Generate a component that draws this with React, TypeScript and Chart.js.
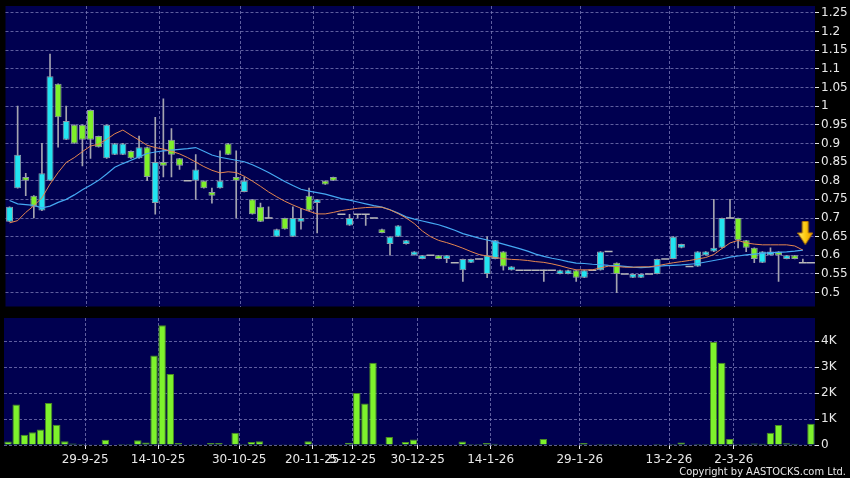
import React, { useEffect, useRef } from "react";
import { Chart, registerables } from "chart.js";
Chart.register(...registerables);

// ---- data ----
const openP = [
  0.69, 0.78, 0.81, 0.76, 0.72, 0.80, 1.06, 0.91, 0.95, 0.95,
  0.99, 0.92, 0.86, 0.87, 0.87, 0.88, 0.86, 0.89, 0.74, 0.85,
  0.91, 0.86, 0.80, 0.80, 0.80, 0.77, 0.78, 0.90, 0.81, 0.77,
  0.75, 0.73, 0.70, 0.65, 0.70, 0.65, 0.69, 0.76, 0.74, 0.80,
  0.81, 0.71, 0.68, 0.71, 0.71, 0.70, 0.67, 0.63, 0.65, 0.63,
  0.60, 0.59, 0.60, 0.60, 0.59, 0.58, 0.56, 0.58, 0.59, 0.55,
  0.59, 0.61, 0.56, 0.56, 0.56, 0.56, 0.56, 0.56, 0.55, 0.55,
  0.56, 0.54, 0.56, 0.56, 0.61, 0.58, 0.55, 0.54, 0.54, 0.55,
  0.55, 0.59, 0.59, 0.62, 0.57, 0.57, 0.60, 0.61, 0.62, 0.70,
  0.70, 0.64, 0.62, 0.58, 0.60, 0.61, 0.59, 0.60, 0.58, 0.58,
];
const highP = [
  0.73, 1.00, 0.82, 0.76, 0.90, 1.14, 1.06, 1.00, 0.95, 0.95,
  0.99, 0.92, 0.95, 0.90, 0.90, 0.88, 0.92, 0.89, 0.97, 1.02,
  0.94, 0.86, 0.80, 0.87, 0.80, 0.78, 0.88, 0.90, 0.88, 0.81,
  0.75, 0.74, 0.73, 0.67, 0.70, 0.73, 0.725, 0.78, 0.75, 0.80,
  0.81, 0.71, 0.71, 0.71, 0.71, 0.70, 0.67, 0.65, 0.68, 0.64,
  0.61, 0.60, 0.60, 0.60, 0.60, 0.58, 0.59, 0.59, 0.59, 0.65,
  0.64, 0.61, 0.57, 0.56, 0.56, 0.56, 0.56, 0.56, 0.56, 0.56,
  0.56, 0.56, 0.56, 0.61, 0.61, 0.58, 0.55, 0.55, 0.55, 0.55,
  0.59, 0.59, 0.65, 0.63, 0.57, 0.61, 0.61, 0.75, 0.70, 0.75,
  0.70, 0.64, 0.62, 0.61, 0.62, 0.61, 0.60, 0.60, 0.59, 0.58,
];
const lowP = [
  0.69, 0.78, 0.76, 0.70, 0.72, 0.80, 0.89, 0.91, 0.90, 0.84,
  0.86, 0.89, 0.86, 0.87, 0.87, 0.86, 0.86, 0.80, 0.71, 0.81,
  0.81, 0.83, 0.80, 0.75, 0.78, 0.74, 0.78, 0.87, 0.70, 0.77,
  0.71, 0.69, 0.70, 0.65, 0.67, 0.65, 0.67, 0.72, 0.66, 0.79,
  0.80, 0.71, 0.68, 0.70, 0.68, 0.70, 0.66, 0.60, 0.65, 0.63,
  0.60, 0.59, 0.60, 0.59, 0.58, 0.58, 0.53, 0.58, 0.59, 0.54,
  0.59, 0.56, 0.56, 0.56, 0.56, 0.56, 0.53, 0.56, 0.55, 0.55,
  0.53, 0.54, 0.56, 0.56, 0.61, 0.50, 0.55, 0.54, 0.54, 0.55,
  0.55, 0.59, 0.59, 0.62, 0.57, 0.57, 0.60, 0.61, 0.62, 0.70,
  0.62, 0.61, 0.58, 0.58, 0.60, 0.53, 0.59, 0.59, 0.58, 0.58,
];
const closeP = [
  0.73, 0.87, 0.80, 0.73, 0.82, 1.08, 0.97, 0.96, 0.90, 0.91,
  0.91, 0.89, 0.95, 0.90, 0.90, 0.86, 0.89, 0.81, 0.85, 0.84,
  0.87, 0.84, 0.80, 0.83, 0.78, 0.76, 0.80, 0.87, 0.80, 0.80,
  0.71, 0.69, 0.70, 0.67, 0.67, 0.70, 0.70, 0.72, 0.75, 0.79,
  0.80, 0.71, 0.70, 0.71, 0.71, 0.70, 0.66, 0.65, 0.68, 0.64,
  0.61, 0.60, 0.60, 0.59, 0.60, 0.58, 0.59, 0.59, 0.59, 0.60,
  0.64, 0.57, 0.57, 0.56, 0.56, 0.56, 0.56, 0.56, 0.56, 0.56,
  0.54, 0.56, 0.56, 0.61, 0.61, 0.55, 0.55, 0.55, 0.55, 0.55,
  0.59, 0.59, 0.65, 0.63, 0.57, 0.61, 0.61, 0.62, 0.70, 0.70,
  0.64, 0.62, 0.59, 0.61, 0.61, 0.60, 0.60, 0.59, 0.58, 0.58,
];
const volume = [
  130, 1560, 390, 490, 600, 1620, 780, 140, 60, 40,
  30, 10, 200, 20, 40, 40, 180, 100, 3440, 4610,
  2730, 80, 10, 40, 10, 80, 80, 10, 470, 40,
  120, 140, 10, 10, 30, 30, 20, 140, 30, 10,
  10, 30, 90, 2000, 1600, 3160, 40, 310, 10, 120,
  210, 20, 20, 20, 20, 10, 130, 40, 40, 80,
  50, 30, 20, 20, 10, 10, 230, 10, 10, 10,
  20, 80, 10, 40, 40, 40, 10, 10, 10, 20,
  40, 10, 40, 100, 10, 40, 40, 3960, 3160, 230,
  40, 40, 60, 50, 470, 770, 70, 50, 10, 820,
];
const ma10 = [
  0.687, 0.693, 0.715, 0.733, 0.754, 0.791, 0.822, 0.849, 0.862, 0.878,
  0.893, 0.898, 0.911, 0.926, 0.936, 0.922, 0.909, 0.895, 0.889, 0.885,
  0.879, 0.872, 0.862, 0.850, 0.838, 0.828, 0.821, 0.824, 0.822, 0.812,
  0.799, 0.785, 0.770, 0.757, 0.745, 0.735, 0.726, 0.718, 0.711, 0.711,
  0.715, 0.720, 0.723, 0.726, 0.728, 0.729, 0.729, 0.722, 0.712, 0.700,
  0.685, 0.665, 0.650, 0.640, 0.634, 0.627, 0.619, 0.610, 0.602, 0.598,
  0.594, 0.591, 0.589, 0.588, 0.586, 0.583, 0.581, 0.577, 0.572, 0.566,
  0.561, 0.561, 0.561, 0.566, 0.571, 0.570, 0.568, 0.568, 0.569, 0.569,
  0.572, 0.576, 0.580, 0.583, 0.586, 0.590, 0.594, 0.602, 0.618, 0.633,
  0.640, 0.633, 0.630, 0.628, 0.628, 0.628, 0.628, 0.625, 0.614, null,
];
const ma20 = [
  0.747, 0.738, 0.736, 0.734, 0.727, 0.732, 0.742, 0.750, 0.762, 0.776,
  0.788, 0.801, 0.818, 0.836, 0.846, 0.855, 0.864, 0.873, 0.877, 0.880,
  0.882, 0.884, 0.886, 0.889, 0.879, 0.869, 0.863, 0.859, 0.855, 0.851,
  0.843, 0.833, 0.822, 0.810, 0.798, 0.787, 0.777, 0.772, 0.768, 0.764,
  0.758, 0.752, 0.748, 0.743, 0.738, 0.733, 0.729, 0.722, 0.713, 0.703,
  0.697, 0.692, 0.687, 0.682, 0.675, 0.667, 0.658, 0.652, 0.646, 0.641,
  0.636, 0.630, 0.624, 0.618, 0.611, 0.603, 0.597, 0.592, 0.588, 0.583,
  0.579, 0.578, 0.576, 0.575, 0.573, 0.572, 0.570, 0.568, 0.567, 0.568,
  0.570, 0.572, 0.573, 0.574, 0.576, 0.578, 0.582, 0.586, 0.590, 0.595,
  0.598, 0.601, 0.603, 0.605, 0.607, 0.608, 0.609, 0.611, 0.614, null,
];
const dateTickPos = [9.5, 18.5, 28.5, 37.5, 42.5, 50.5, 59.5, 70.5, 81.5, 89.5];
const dateTickLabels = ["29-9-25", "14-10-25", "30-10-25", "20-11-25", "5-12-25", "30-12-25", "14-1-26", "29-1-26", "13-2-26", "2-3-26"];
const priceTicks = [0.5, 0.55, 0.6, 0.65, 0.7, 0.75, 0.8, 0.85, 0.9, 0.95, 1.0, 1.05, 1.1, 1.15, 1.2, 1.25];
const volumeTicks = [0, 1000, 2000, 3000, 4000];
const arrowX = 98.3;
const arrowY = 0.66;

// ---- styles ----
const PANEL_BG = "#000050";
const GRID = "rgba(125,125,185,0.75)";
const TEXT = "#e8e8e8";
const UP = "#22e4f0";
const DOWN = "#7ef02a";
const FONT = { family: "DejaVu Sans", size: 12 };

const bgPlugin = {
  id: "panelBg",
  beforeDraw(chart: any) {
    const { ctx, chartArea: a } = chart;
    ctx.save();
    ctx.fillStyle = PANEL_BG;
    ctx.fillRect(a.left, a.top, a.right - a.left, a.bottom - a.top);
    ctx.restore();
  },
};

function makeArrow(): HTMLCanvasElement {
  const c = document.createElement("canvas");
  c.width = 16;
  c.height = 24;
  const g = c.getContext("2d")!;
  const grad = g.createLinearGradient(0, 0, 16, 0);
  grad.addColorStop(0, "#fff07a");
  grad.addColorStop(0.5, "#ffcc10");
  grad.addColorStop(1, "#e29400");
  g.fillStyle = grad;
  g.strokeStyle = "#b87800";
  g.lineWidth = 1;
  g.beginPath();
  g.moveTo(5, 0.5);
  g.lineTo(11, 0.5);
  g.lineTo(11, 12);
  g.lineTo(15.5, 12);
  g.lineTo(8, 23.5);
  g.lineTo(0.5, 12);
  g.lineTo(5, 12);
  g.closePath();
  g.fill();
  g.stroke();
  return c;
}

const noPad = (ax: any) => {
  ax.paddingTop = 0;
  ax.paddingBottom = 0;
  ax.paddingLeft = 0;
  ax.paddingRight = 0;
};

export default function App() {
  const pRef = useRef<HTMLCanvasElement>(null);
  const vRef = useRef<HTMLCanvasElement>(null);

  useEffect(() => {
    const idx = openP.map((_, i) => i);
    const bodies: any[] = [];
    const bodyColors: string[] = [];
    const dojis: any[] = [];
    idx.forEach((i) => {
      if (openP[i] === closeP[i]) {
        dojis.push({ x: i, y: closeP[i] });
      } else {
        bodies.push({ x: i, y: [openP[i], closeP[i]] });
        bodyColors.push(closeP[i] > openP[i] ? UP : DOWN);
      }
    });
    const wicks = idx
      .filter((i) => highP[i] > lowP[i])
      .map((i) => ({ x: i, y: [lowP[i], highP[i]] }));
    const allX = idx.map((i) => ({ x: i, y: null }));

    const xBase = (showLabels: boolean) => ({
      type: "linear" as const,
      min: -0.5,
      max: 99.5,
      offset: false,
      afterBuildTicks: (ax: any) => {
        ax.ticks = dateTickPos.map((v) => ({ value: v }));
      },
      ticks: {
        display: showLabels,
        autoSkip: false,
        maxRotation: 0,
        color: TEXT,
        font: FONT,
        padding: 4,
        callback: (_v: any, i: number) => dateTickLabels[i],
      },
      grid: { color: GRID, offset: false, drawTicks: showLabels, tickLength: 4, tickColor: TEXT, tickBorderDash: [] },
      border: { display: false, dash: [3, 2] },
      afterFit: (ax: any) => {
        ax.height = showLabels ? 22 : 0;
        noPad(ax);
      },
    });

    const yBase = (min: number, max: number, ticks: number[], fmt: (v: number) => string) => ({
      position: "right" as const,
      min,
      max,
      afterBuildTicks: (ax: any) => {
        ax.ticks = ticks.map((v) => ({ value: v }));
      },
      ticks: {
        color: TEXT,
        font: FONT,
        padding: 2,
        callback: (v: any) => fmt(Number(v)),
      },
      grid: { color: GRID, tickLength: 4, tickColor: TEXT, tickBorderDash: [] },
      border: { display: false, dash: [3, 2] },
      afterFit: (ax: any) => {
        ax.width = 35;
        noPad(ax);
      },
    });

    const priceChart = new Chart(pRef.current!, {
      type: "bar",
      data: {
        datasets: [
          {
            type: "scatter",
            data: [{ x: arrowX, y: arrowY }],
            pointStyle: makeArrow() as any,
            order: 0,
          } as any,
          {
            type: "line",
            data: ma10.map((v, i) => ({ x: i, y: v })),
            borderColor: "#e4854f",
            borderWidth: 1,
            pointRadius: 0,
            order: 1,
          },
          {
            type: "line",
            data: ma20.map((v, i) => ({ x: i, y: v })),
            borderColor: "#45a8f2",
            borderWidth: 1.2,
            pointRadius: 0,
            order: 1,
          },
          {
            type: "scatter",
            data: dojis,
            pointStyle: "line",
            pointRadius: 4,
            borderColor: "#b8b8b8",
            pointBorderColor: "#b8b8b8",
            borderWidth: 1.5,
            pointBorderWidth: 1.5,
            order: 2,
          } as any,
          {
            type: "bar",
            data: bodies,
            backgroundColor: bodyColors,
            borderColor: "#8e98a6",
            borderWidth: 1,
            borderSkipped: false,
            grouped: false,
            barPercentage: 0.86,
            categoryPercentage: 1,
            order: 3,
          } as any,
          {
            type: "bar",
            data: wicks,
            backgroundColor: "#a4a4b0",
            barThickness: 1,
            grouped: false,
            order: 4,
          } as any,
          {
            type: "bar",
            data: allX,
            grouped: false,
            order: 5,
          } as any,
        ],
      },
      options: {
        responsive: false,
        animation: false,
        layout: { padding: { top: 6, left: 4, right: 0, bottom: 2 } },
        plugins: { legend: { display: false }, tooltip: { enabled: false } },
        scales: {
          x: xBase(false) as any,
          y: yBase(0.4626, 1.2687, priceTicks, (v) => String(Number(v.toFixed(2)))) as any,
        },
      },
      plugins: [bgPlugin],
    });

    const volChart = new Chart(vRef.current!, {
      type: "bar",
      data: {
        datasets: [
          {
            data: volume.map((v, i) => ({ x: i, y: v })),
            backgroundColor: "#7ef22c",
            borderColor: "#4a8a22",
            borderWidth: 1,
            barPercentage: 0.92,
            categoryPercentage: 1,
          } as any,
        ],
      },
      options: {
        responsive: false,
        animation: false,
        layout: { padding: { top: 6, left: 4, right: 0, bottom: 11 } },
        plugins: { legend: { display: false }, tooltip: { enabled: false } },
        scales: {
          x: xBase(true) as any,
          y: yBase(0, 4885, volumeTicks, (v) => (v === 0 ? "0" : v / 1000 + "K")) as any,
        },
      },
      plugins: [bgPlugin],
    });

    return () => {
      priceChart.destroy();
      volChart.destroy();
    };
  }, []);

  return (
    <div style={{ position: "absolute", left: 0, top: 0, width: 850, height: 478, background: "#000", overflow: "hidden" }}>
      <canvas ref={pRef} width={850} height={312} style={{ position: "absolute", left: 0, top: 0 }} />
      <canvas ref={vRef} width={850} height={166} style={{ position: "absolute", left: 0, top: 312 }} />
      <div
        style={{
          position: "absolute",
          right: 4,
          top: 465,
          color: TEXT,
          fontFamily: "'DejaVu Sans Condensed', 'Liberation Sans Narrow', sans-serif",
          fontSize: 11,
          lineHeight: "14px",
          whiteSpace: "nowrap",
        }}
      >
        Copyright by AASTOCKS.com Ltd.
      </div>
    </div>
  );
}
